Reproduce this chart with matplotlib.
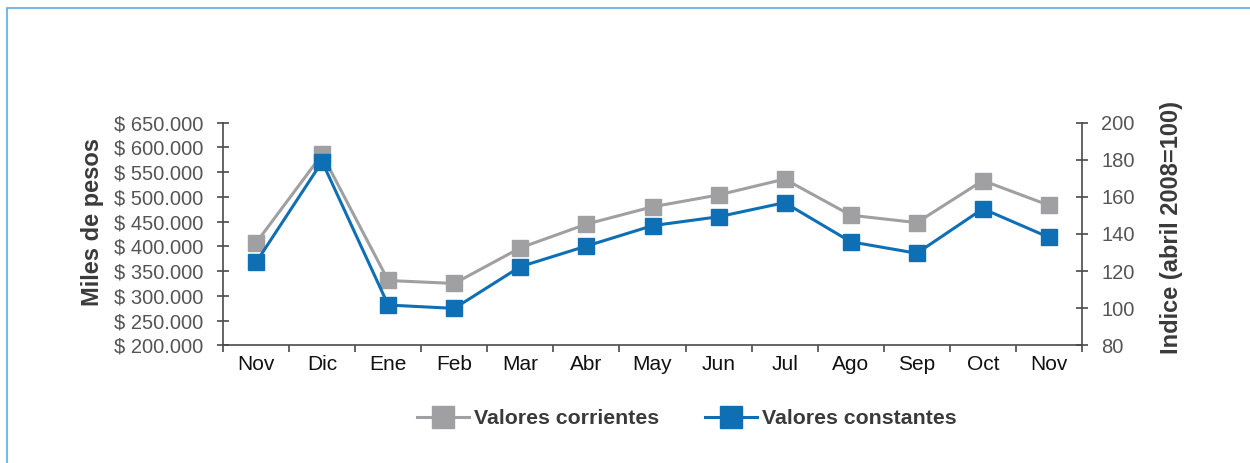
import numpy as np
import matplotlib.pyplot as plt
from matplotlib.patches import Rectangle
from matplotlib.ticker import FuncFormatter, MultipleLocator, FixedLocator

meses = ['Nov', 'Dic', 'Ene', 'Feb', 'Mar', 'Abr', 'May', 'Jun', 'Jul',
         'Ago', 'Sep', 'Oct', 'Nov']
# valores corrientes, miles de pesos (eje izquierdo)
corrientes = [407000, 586000, 331000, 325000, 397000, 445000, 480000,
              504000, 536000, 463000, 448000, 533000, 483000]
# valores constantes, indice abril 2008=100 (eje derecho)
constantes = [124.7, 179.0, 101.7, 99.9, 122.4, 133.5, 144.5,
              149.3, 156.9, 135.8, 129.6, 153.6, 138.2]

gris = '#A0A0A2'
azul = '#0F6FB5'
eje = '#4a4a4a'

plt.rcParams['font.family'] = ['Liberation Sans', 'DejaVu Sans']

fig = plt.figure(figsize=(12.5, 4.63), dpi=100)
# marco celeste
fig.patches.append(Rectangle((7 / 1250, -0.1), 1.2, 1 - 8 / 463 + 0.1,
                             transform=fig.transFigure, fill=False,
                             edgecolor='#5AAFE0', linewidth=1.2))

ax = fig.add_axes([223 / 1250, 1 - 345.3 / 463, (1082 - 223) / 1250,
                   (345.3 - 122.7) / 463])
ax2 = ax.twinx()

x = np.arange(len(meses))
l1, = ax.plot(x, corrientes, color=gris, lw=2.2, marker='s', ms=12,
              label='Valores corrientes', zorder=3)
l2, = ax2.plot(x, constantes, color=azul, lw=2.2, marker='s', ms=12,
               label='Valores constantes', zorder=4)

ax.set_xlim(-0.5, len(meses) - 0.5)
ax.set_ylim(200000, 650000)
ax2.set_ylim(80, 200)
ax.yaxis.set_major_locator(MultipleLocator(50000))
ax2.yaxis.set_major_locator(MultipleLocator(20))
ax.yaxis.set_major_formatter(FuncFormatter(
    lambda v, p: '$ ' + f'{int(v):,}'.replace(',', '.')))

ax.set_xticks(x)
ax.set_xticklabels(meses, fontsize=15, color='#111111')
ax.xaxis.set_minor_locator(FixedLocator(np.arange(-0.5, len(meses), 1)))
ax.tick_params(axis='x', which='major', length=0, pad=7)
ax.tick_params(axis='x', which='minor', direction='out', length=5,
               width=1.2, color=eje)
ax.tick_params(axis='y', direction='inout', length=9, width=1.2,
               color=eje, labelsize=14.5, labelcolor='#555555', pad=9.5)
ax2.tick_params(axis='y', direction='inout', length=9, width=1.2,
                color=eje, labelsize=14.5, labelcolor='#555555', pad=9.5)

for a in (ax, ax2):
    a.spines['top'].set_visible(False)
    for s in ('left', 'right', 'bottom'):
        a.spines[s].set_color(eje)
        a.spines[s].set_linewidth(1.2)
ax.spines['right'].set_visible(False)
ax2.spines['left'].set_visible(False)
ax2.spines['bottom'].set_visible(False)

# titulos de ejes, ubicados como en el original
fig.text(92 / 1250, 1 - 222.5 / 463, 'Miles de pesos', rotation=90,
         ha='center', va='center', fontsize=17, fontweight='bold',
         color='#3a3a3a')
fig.text(1171.5 / 1250, 1 - 228 / 463, 'Indice (abril 2008=100)',
         rotation=90, ha='center', va='center', fontsize=17,
         fontweight='bold', color='#3a3a3a')

fig.legend(handles=[l1, l2], loc='center', bbox_to_anchor=(0.5495, 1 - 419 / 463),
           ncol=2, frameon=False, handlelength=2.45, handletextpad=0.25,
           columnspacing=2.15, markerscale=1.3,
           prop={'size': 15.3, 'weight': 'bold'}, labelcolor='#3a3a3a')

fig.savefig('out.png', dpi=100)
